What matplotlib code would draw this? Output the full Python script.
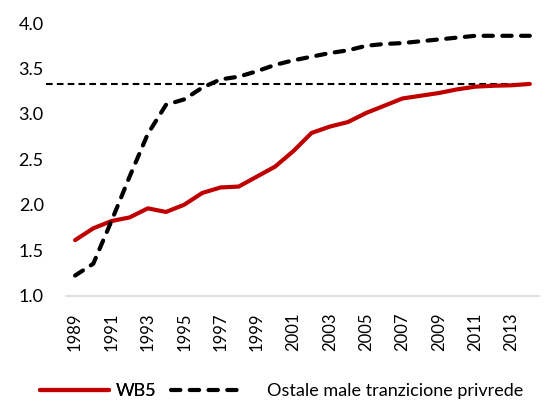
import matplotlib
matplotlib.use("Agg")
import matplotlib.pyplot as plt
from matplotlib.lines import Line2D
from matplotlib.transforms import blended_transform_factory

plt.rcParams['font.family'] = ['Lato', 'DejaVu Sans']

years = list(range(1989, 2015))
wb5 = [1.61, 1.74, 1.82, 1.86, 1.96, 1.92, 2.00, 2.13, 2.19, 2.20, 2.31, 2.42,
       2.59, 2.79, 2.86, 2.91, 3.01, 3.09, 3.17, 3.20, 3.23, 3.27, 3.30, 3.31,
       3.315, 3.33]
ostale = [1.22, 1.35, 1.82, 2.31, 2.78, 3.10, 3.16, 3.29, 3.38, 3.41, 3.47, 3.54,
          3.59, 3.63, 3.67, 3.70, 3.75, 3.77, 3.78, 3.80, 3.82, 3.84, 3.86, 3.86,
          3.86, 3.86]
reference_level = 3.325
yticks = [1.0, 1.5, 2.0, 2.5, 3.0, 3.5, 4.0]
label_series = "WB5"
label_other = "Ostale male tranzicione privrede"

fig = plt.figure(figsize=(5.48, 4.03), dpi=100)
ax = fig.add_axes([0.1204, 0.2667, 0.863, 0.676])

x = list(range(len(years)))
ax.plot(x, wb5, color='#C00000', lw=3.0, solid_capstyle='round', zorder=3)
ax.plot(x, ostale, color='black', lw=3.0, linestyle=(0, (2.25, 2.25)),
        dash_capstyle='round', zorder=3)

tr = blended_transform_factory(ax.transAxes, ax.transData)
ax.plot([-0.042, 0.987], [reference_level, reference_level], transform=tr,
        color='black', lw=1.5, linestyle=(0, (3.2, 2.0)), clip_on=False, zorder=2)

ax.set_xlim(-0.5, len(years) - 0.5)
ax.set_ylim(1.0, 4.0)
ax.set_yticks(yticks)
ax.set_yticklabels([f"{v:.1f}" for v in yticks], fontsize=13)
ax.set_xticks(x[::2])
ax.set_xticklabels([str(y) for y in years[::2]], rotation=90, fontsize=12)
ax.tick_params(axis='both', length=0)
ax.tick_params(axis='y', pad=16)
ax.tick_params(axis='x', pad=12)

for s in ['top', 'right', 'left']:
    ax.spines[s].set_visible(False)
ax.spines['bottom'].set_color('#D9D9D9')
ax.spines['bottom'].set_linewidth(1.2)

h1 = Line2D([], [], color='#C00000', lw=3.0, solid_capstyle='round')
h2 = Line2D([], [], color='black', lw=3.0, linestyle=(0, (2.25, 2.25)), dash_capstyle='round')
leg1 = fig.legend([h1], [label_series], loc='center left', bbox_to_anchor=(0.073, 0.03),
                  frameon=False, fontsize=13, handlelength=3.8, handletextpad=0.4,
                  borderaxespad=0, borderpad=0)
leg2 = fig.legend([h2], [label_other], loc='center left', bbox_to_anchor=(0.312, 0.03),
                  frameon=False, fontsize=13, handlelength=3.8, handletextpad=1.5,
                  borderaxespad=0, borderpad=0)
fig.add_artist(leg1)

fig.savefig("out.png", dpi=100)
